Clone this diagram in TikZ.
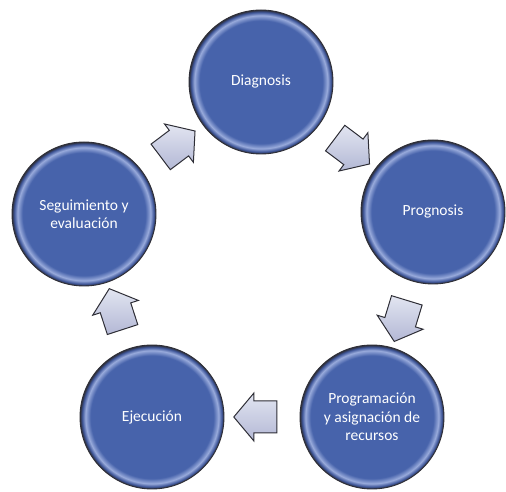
\documentclass[tikz,border=0pt]{standalone}
\usepackage{fontspec}
\setmainfont{Carlito}
\usetikzlibrary{shapes.arrows,calc}

\definecolor{stageblue}{HTML}{4763AB}
\definecolor{stagering}{HTML}{98AADB}
\definecolor{stagedeep}{HTML}{3A5296}
\definecolor{stageline}{HTML}{2E2E36}
\definecolor{arrowlight}{HTML}{E2E5F1}
\definecolor{arrowdark}{HTML}{B3B8D5}

% glossy rim of the stage circles (edge of the circle sits at 25bp)
\pgfdeclareradialshading{stagebead}{\pgfpoint{0bp}{0bp}}{color(0bp)=(stageblue); color(21.3bp)=(stageblue); color(23.1bp)=(stagering); color(24.3bp)=(stagedeep); color(25bp)=(stageline); color(50bp)=(stageline)}

\begin{document}
\begin{tikzpicture}[
        x=1pt, y=1pt,
        stage/.style={circle, draw=stageline, line width=0.9pt, shade, shading=stagebead, minimum size=144pt, inner sep=2pt, align=center, text=white, font=\fontsize{15.5}{18.3}\selectfont},
        turn/.style={single arrow, draw=stageline, line width=1pt, top color=arrowlight, bottom color=arrowdark, minimum height=43pt, inner xsep=0pt, inner ysep=15.5pt, single arrow head extend=8pt, single arrow head indent=0pt, single arrow tip angle=100}
    ]
        \useasboundingbox (0,0) rectangle (506,492);

        % Stages of the cycle
        \node[stage] (diag) at (261,410) {Diagnosis};
        \node[stage] (prog) at (433,280) {Prognosis};
        \node[stage] (plan) at (372,75) {Programación\\y asignación de\\recursos};
        \node[stage] (ejec) at (152,75) {Ejecución};
        \node[stage] (segu) at (84,278) {Seguimiento y\\evaluación};

        % Block arrows between the stages
        \node[turn, rotate=-37] (diag-prog) at ($(diag)!0.5!(prog)$) {};
        \node[turn, rotate=-107] (prog-plan) at ($(prog)!0.5!(plan)$) {};
        \node[turn, rotate=180] (plan-ejec) at ($(plan)!0.5!(ejec)$) {};
        \node[turn, rotate=108] (ejec-segu) at ($(ejec)!0.5!(segu)$) {};
        \node[turn, rotate=37] (segu-diag) at ($(segu)!0.5!(diag)$) {};

    \end{tikzpicture}
\end{document}
